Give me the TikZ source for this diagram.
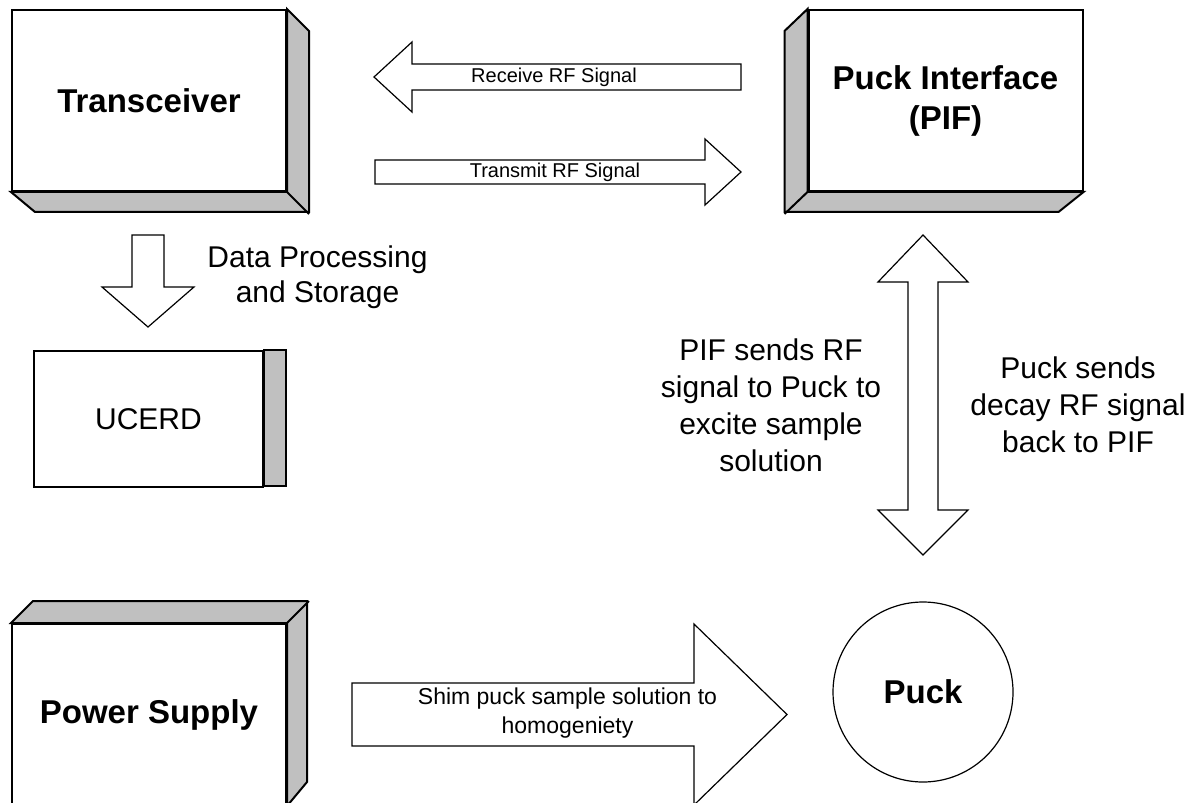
\documentclass[tikz,border=0pt]{standalone}
\usepackage{fontspec}
\setmainfont{Liberation Sans}
\definecolor{boxgray}{HTML}{C0C0C0}
\begin{document}
\begin{tikzpicture}[
  x=0.5pt, y=-0.5pt,
  box/.style={rectangle, draw, line width=1pt, fill=white, minimum width=137pt, minimum height=90.5pt, inner sep=0pt, align=center, font=\fontsize{16.5}{20}\selectfont\bfseries},
  side/.style={draw, line width=1pt, fill=boxgray},
  blockarrow/.style={draw, line width=0.6pt, fill=white, line join=miter},
  label/.style={align=center, font=\fontsize{15}{18.5}\selectfont},
  small/.style={font=\fontsize{10}{12}\selectfont}
]
\useasboundingbox (0,0) rectangle (1192,802);
\clip (0,0) rectangle (1192,802);

% boxes
\node[box] (trx) at (149,100.5) {Transceiver};
\draw[side] (trx.north east) -- ++(22,22) -- ++(0,181) -- ++(-274,0) -- (trx.south west) -- (trx.south east) -- cycle;
\draw[line width=1pt] (trx.south east) -- ++(22,22);

\node[box] (pif) at (945.5,100.5) {Puck Interface\\(PIF)};
\draw[side] (pif.north west) -- ++(-23,22) -- ++(0,181) -- ++(274,0) -- (pif.south east) -- (pif.south west) -- cycle;
\draw[line width=1pt] (pif.south west) -- ++(-23,22);

\node[box, minimum width=114.5pt, minimum height=68pt, font=\fontsize{15}{18}\selectfont] (ucerd) at (148.5,419) {UCERD};
\draw[side] (ucerd.north east) rectangle ++(22,136);

\node[box] (power) at (149,714.5) {Power Supply};
\draw[side] (power.north west) -- ++(22,-22) -- ++(274,0) -- ++(0,181) -- (power.south east) -- (power.north east) -- cycle;
\draw[line width=1pt] (power.north east) -- ++(22,-22);

\node[circle, draw, line width=0.6pt, minimum size=90pt, inner sep=0pt, font=\fontsize{16.5}{20}\selectfont\bfseries] (puck) at (923,692) {Puck};

% block arrows
\draw[blockarrow] (741,64) -- (412,64) -- (412,42) -- (374,77) -- (412,112) -- (412,90) -- (741,90) -- cycle;
\draw[blockarrow] (375,160) -- (705,160) -- (705,139) -- (741,172) -- (705,205) -- (705,184) -- (375,184) -- cycle;
\draw[blockarrow] (132,235) -- (164,235) -- (164,287) -- (194,287) -- (148,327) -- (102,287) -- (132,287) -- cycle;
\draw[blockarrow] (923,235) -- (968,282) -- (938,282) -- (938,510) -- (968,510) -- (923,555) -- (878,510) -- (908,510) -- (908,282) -- (878,282) -- cycle;
\draw[blockarrow] (352,683) -- (694,683) -- (694,624) -- (787,714.5) -- (694,805) -- (694,746) -- (352,746) -- cycle;

% labels
\node[small] (rxlabel) at (554,77) {Receive RF Signal};
\node[small] (txlabel) at (555,172) {Transmit RF Signal};
\node[label, font=\fontsize{15}{17.5}\selectfont] (dps) at (317.5,277.5) {Data Processing\\and Storage};
\node[label] (pifsends) at (771,405) {PIF sends RF\\signal to Puck to\\excite sample\\solution};
\node[label] (pucksends) at (1078,405) {Puck sends\\decay RF signal\\back to PIF};
\node[align=center, font=\fontsize{11.5}{14.5}\selectfont] (shimlabel) at (567.5,713.5) {Shim puck sample solution to\\homogeniety};
\end{tikzpicture}
\end{document}
